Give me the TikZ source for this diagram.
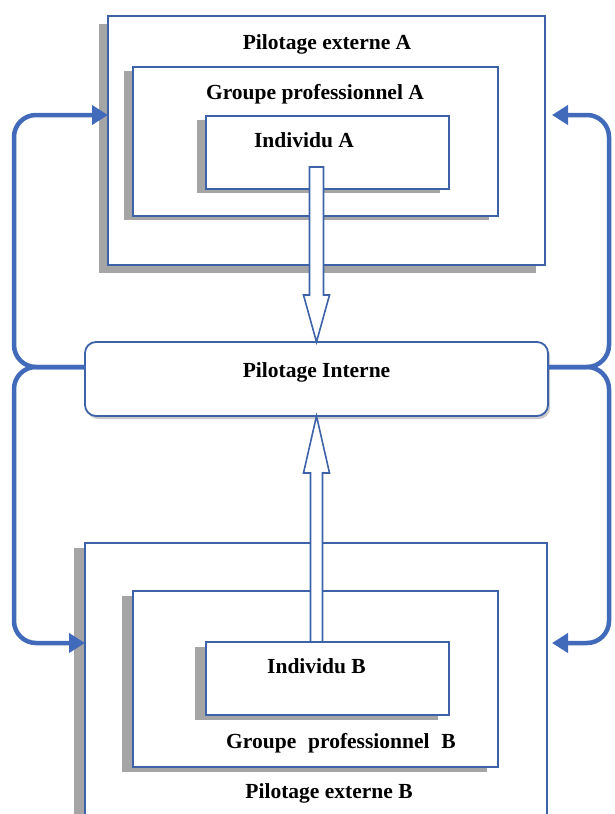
\documentclass[tikz,border=0pt]{standalone}
\usepackage{fontspec}
\setmainfont{Liberation Serif}
\usetikzlibrary{arrows.meta,calc,shadows}
\definecolor{boxblue}{RGB}{62,98,168}
\definecolor{arrowblue}{RGB}{66,106,186}
\definecolor{shadowgray}{RGB}{150,150,150}
\begin{document}
\begin{tikzpicture}[x=1pt,y=-1pt,
  box/.style={draw=boxblue, line width=1.8pt, fill=white, rectangle, inner sep=0pt, outer sep=0pt},
  shadA/.style={drop shadow={shadow xshift=-9pt, shadow yshift=-8pt, fill=shadowgray, opacity=0.85}},
  shadAi/.style={drop shadow={shadow xshift=-9pt, shadow yshift=-4pt, fill=shadowgray, opacity=0.85}},
  shadB/.style={drop shadow={shadow xshift=-11pt, shadow yshift=-5pt, fill=shadowgray, opacity=0.85}},
  txt/.style={font=\fontsize{21.5}{24}\selectfont\bfseries, inner sep=0pt, anchor=base},
  flow/.style={draw=arrowblue, line width=4.5pt, rounded corners=22pt, -{Triangle[length=16pt,width=19pt]}},
  hollow/.style={draw=boxblue, line width=1.6pt, fill=white, line join=miter}
]
\useasboundingbox (0,0) rectangle (614,814);
\clip (0,0) rectangle (614,814);
\fill[white] (0,0) rectangle (614,814);

% --- Top block A ---
\node[box, shadA, minimum width=437pt, minimum height=249pt] (OA) at (326.5,140.5) {};
\node[box, shadAi, minimum width=365pt, minimum height=149pt] (GA) at (315.5,141.5) {};
\node[box, shadAi, minimum width=243pt, minimum height=73pt] (IA) at (327.5,152.5) {};
\node[txt] (tPEA) at (327,49) {Pilotage externe A};
\node[txt] (tGPA) at (315,99) {Groupe professionnel A};
\node[txt] (tIA) at (304,147) {Individu A};

% --- Middle ---
\node[box, rounded corners=11pt, drop shadow={shadow xshift=2pt, shadow yshift=-3pt, fill=shadowgray, opacity=0.5}, minimum width=463pt, minimum height=74pt] (PI) at (316.5,379) {};
\node[txt] (tPI) at (316.5,377) {Pilotage Interne};

% --- Bottom block B ---
\node[box, shadB, minimum width=462pt, minimum height=287pt] (OB) at (316,686.5) {};
\node[box, shadB, minimum width=365pt, minimum height=176pt] (GB) at (315.5,679) {};
\node[box, shadB, minimum width=243pt, minimum height=73pt] (IB) at (327.5,678.5) {};
\node[txt] (tIB) at (316.5,673) {Individu B};
\node[txt] (tGPB) at (341,748) {Groupe\hspace{0.3em} professionnel\hspace{0.3em} B};
\node[txt] (tPEB) at (329,798) {Pilotage externe B};

% --- Hollow arrows ---
\coordinate (tipA) at (PI.north);
\draw[hollow] ($(tipA)+(-7,-47)$) -- ($(tipA)+(-7,-175)$) -- ($(tipA)+(7,-175)$) -- ($(tipA)+(7,-47)$)
  -- ($(tipA)+(13,-47)$) -- (tipA) -- ($(tipA)+(-13,-47)$) -- cycle;
\coordinate (tipB) at (PI.south);
\coordinate (baseB) at (IB.north -| tipB);
\draw[hollow] ($(tipB)+(-6,57)$) -- ($(baseB)+(-6,0)$) -- ($(baseB)+(6,0)$) -- ($(tipB)+(6,57)$)
  -- ($(tipB)+(13,57)$) -- (tipB) -- ($(tipB)+(-13,57)$) -- cycle;

% --- Blue feedback arrows ---
\coordinate (jL) at (14,367);
\coordinate (jR) at (609,367);
\coordinate (cLU) at (14,115);
\coordinate (cLD) at (14,643);
\coordinate (cRU) at (609,115);
\coordinate (cRD) at (609,643);
\coordinate (eRU) at (552,115);
\coordinate (eRD) at (552,643);
\draw[flow] (PI.west |- jL) -- (jL) -- (cLU) -- (OA.west |- cLU);
\draw[flow] (PI.west |- jL) -- (jL) -- (cLD) -- (OB.west |- cLD);
\draw[flow] (PI.east |- jR) -- (jR) -- (cRU) -- (eRU);
\draw[flow] (PI.east |- jR) -- (jR) -- (cRD) -- (eRD);
\end{tikzpicture}
\end{document}
